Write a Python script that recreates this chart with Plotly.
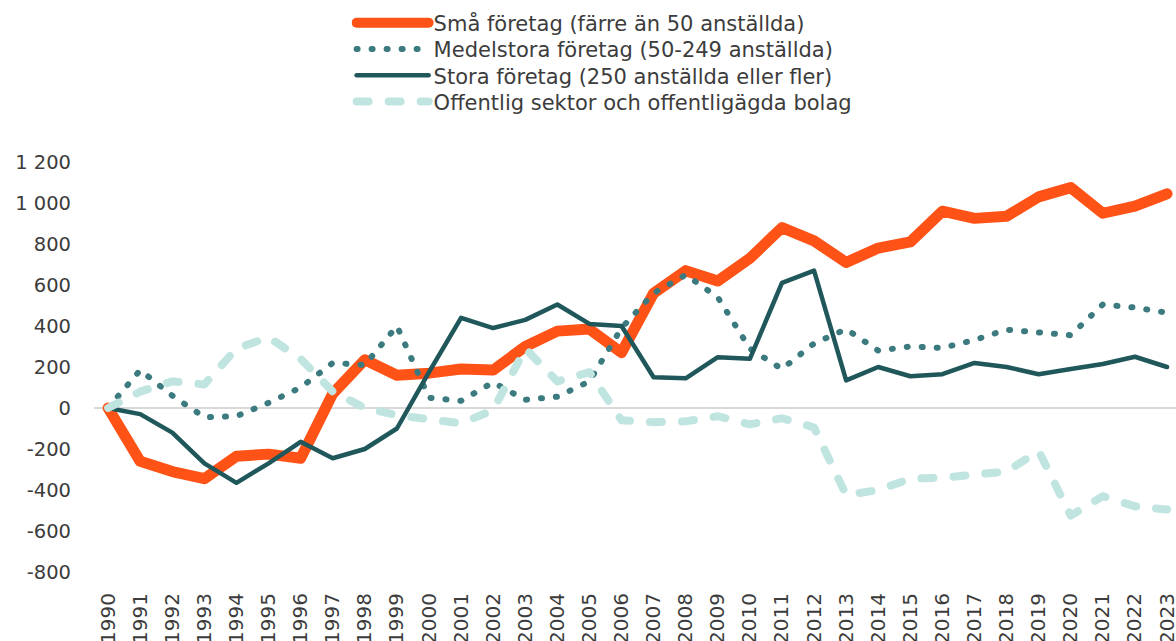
import plotly.graph_objects as go

years = list(range(1990, 2024))

names = [
    "Små företag (färre än 50 anställda)",
    "Medelstora företag (50-249 anställda)",
    "Stora företag (250 anställda eller fler)",
    "Offentlig sektor och offentligägda bolag",
]

small = [0, -260, -310, -345, -235, -225, -245, 70, 235, 160,
         170, 190, 185, 300, 375, 385, 270, 560, 670, 620,
         730, 880, 815, 710, 780, 810, 960, 925, 935, 1030,
         1075, 950, 985, 1045]

medium = [0, 185, 60, -45, -40, 25, 100, 220, 210, 400,
          50, 35, 125, 40, 55, 130, 390, 560, 650, 540,
          290, 190, 315, 385, 280, 300, 293, 332, 382, 370,
          355, 505, 490, 465]

large = [0, -30, -120, -270, -365, -270, -165, -245, -200, -100,
         175, 440, 390, 430, 505, 410, 400, 150, 145, 248,
         240, 610, 670, 135, 200, 155, 165, 220, 200, 165,
         190, 215, 250, 200]

public = [0, 80, 130, 115, 290, 345, 240, 80, 0, -35,
          -55, -75, -10, 290, 130, 175, -60, -70, -65, -40,
          -80, -50, -95, -425, -400, -345, -340, -325, -310, -210,
          -525, -430, -480, -495]

y_ticks = [-800, -600, -400, -200, 0, 200, 400, 600, 800, 1000, 1200]
y_tick_text = ["-800", "-600", "-400", "-200", "0", "200", "400", "600", "800", "1 000", "1 200"]

colors = ["#FF5216", "#3B7A7E", "#1F575B", "#C0E5E0"]
widths = [11, 6, 4.5, 8]
dashes = ["solid", "1px,14px", "solid", "12px,20px"]

fig = go.Figure()
for name, vals, c, w, d in zip(names, [small, medium, large, public], colors, widths, dashes):
    fig.add_trace(go.Scatter(
        x=years, y=vals, name=name, mode="lines",
        line=dict(color=c, width=w, dash=d),
    ))

font_family = "'DejaVu Sans', sans-serif"
text_color = "#3c3c3c"
fig.update_layout(
    width=1176, height=641,
    margin=dict(l=94, r=0, t=162, b=69, autoexpand=False),
    paper_bgcolor="white", plot_bgcolor="white",
    font=dict(family=font_family, size=20, color=text_color),
    showlegend=True,
    legend=dict(
        xref="container", yref="container",
        x=0.299, y=0.996, xanchor="left", yanchor="top",
        orientation="v", itemwidth=72,
        font=dict(size=21, color=text_color),
        tracegroupgap=0, bgcolor="rgba(0,0,0,0)",
    ),
    xaxis=dict(
        range=[1989.56, 2023.28],
        tickmode="array", tickvals=years, ticktext=[str(y) for y in years],
        tickangle=-90, showgrid=False, zeroline=False, showline=False,
        ticks="", ticklabelstandoff=16, ticklabeloverflow="allow",
        tickfont=dict(size=20, color=text_color),
    ),
    yaxis=dict(
        range=[-800, 1200],
        tickmode="array", tickvals=y_ticks, ticktext=y_tick_text,
        showgrid=False, zeroline=True, zerolinecolor="#d9d9d9", zerolinewidth=2,
        showline=False, ticks="", ticklabelstandoff=22,
        tickfont=dict(size=19.5, color=text_color),
    ),
)

post = """
document.body.style.margin='0';
var gd = document.getElementById('{plot_id}');
function tweak(){
  gd.querySelectorAll('.scatterlayer path.js-line, .legend path.js-line').forEach(function(p){
    p.style.strokeLinecap='round'; p.style.strokeLinejoin='round';
  });
  var tr = gd.querySelectorAll('.legend .traces');
  var y0 = null;
  tr.forEach(function(t, i){
    var m = /translate\\(([-\\d.]+)[ ,]+([-\\d.]+)\\)/.exec(t.getAttribute('transform') || '');
    if(!m) return;
    if(y0 === null) y0 = parseFloat(m[2]);
    t.setAttribute('transform', 'translate(' + m[1] + ',' + (y0 + i * 26.3) + ')');
  });
}
tweak();
gd.on('plotly_afterplot', tweak);
"""

fig.write_html("out.html", post_script=post, config={"displayModeBar": False})
